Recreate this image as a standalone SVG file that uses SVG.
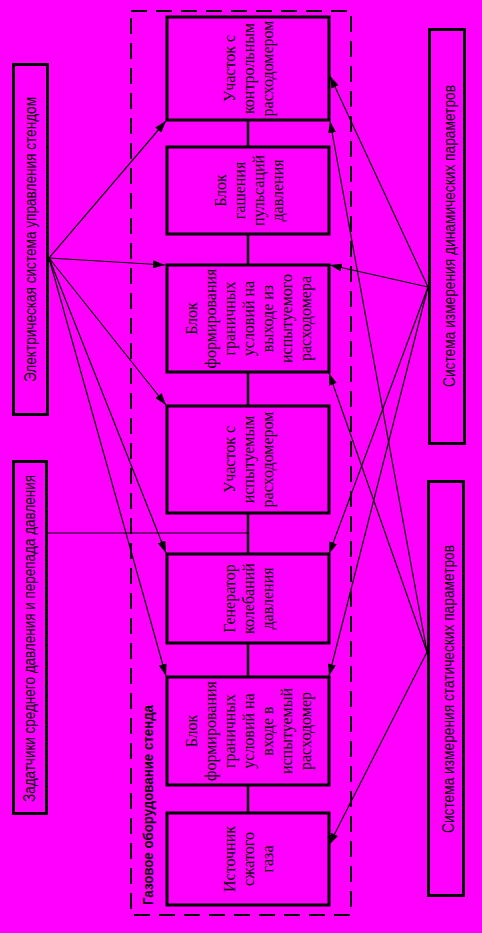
<svg xmlns="http://www.w3.org/2000/svg" width="482" height="933" viewBox="0 0 482 933">
<defs>
<style>
.bg{fill:#ff00ff}
.box{fill:none;stroke:#000;stroke-width:3}
.frame{fill:none;stroke:#000;stroke-width:2;stroke-dasharray:16 9}
.link{stroke:#000;stroke-width:2.5;fill:none}
.con{stroke:#000;stroke-width:1.2;fill:none;marker-end:url(#arr)}
.plain{stroke:#000;stroke-width:1.2;fill:none}
.t{font-family:"Liberation Serif","Times New Roman",serif;font-size:16px;fill:#000;text-anchor:middle}
.s{font-family:"Liberation Sans",Arial,sans-serif;fill:#000;text-anchor:middle}
</style>
<marker id="arr" markerUnits="userSpaceOnUse" markerWidth="12" markerHeight="8" refX="12" refY="4" orient="auto"><path d="M0,0 L12,4 L0,8 z" fill="#000"/></marker>
</defs>
<rect class="bg" x="0" y="0" width="482" height="933"/>

<g id="frame">
<rect class="frame" x="131" y="11" width="220" height="904"/>
<text class="s" font-size="15" font-weight="bold" transform="translate(153,805) rotate(-90)" textLength="200" lengthAdjust="spacingAndGlyphs">Газовое оборудование стенда</text>
</g>

<g id="connectors">
<line class="link" x1="248" y1="120" x2="248" y2="147"/>
<line class="link" x1="248" y1="234" x2="248" y2="265"/>
<line class="link" x1="248" y1="372" x2="248" y2="406"/>
<line class="link" x1="248" y1="513" x2="248" y2="554"/>
<line class="link" x1="248" y1="643" x2="248" y2="677"/>
<line class="link" x1="248" y1="785" x2="248" y2="813"/>
<line class="plain" x1="48" y1="533" x2="248" y2="533"/>
<line class="con" x1="49" y1="258" x2="166" y2="121"/>
<line class="con" x1="49" y1="258" x2="165" y2="265"/>
<line class="con" x1="49" y1="258" x2="166" y2="405"/>
<line class="con" x1="49" y1="258" x2="166" y2="553"/>
<line class="con" x1="49" y1="258" x2="166" y2="676"/>
<line class="con" x1="428" y1="287" x2="330" y2="76"/>
<line class="con" x1="428" y1="287" x2="330" y2="265"/>
<line class="con" x1="428" y1="287" x2="329" y2="554"/>
<line class="con" x1="428" y1="287" x2="329" y2="676"/>
<line class="con" x1="427" y1="652" x2="330" y2="121"/>
<line class="con" x1="427" y1="652" x2="329" y2="373"/>
<line class="con" x1="427" y1="652" x2="329" y2="845"/>
</g>

<g id="ctrl">
<rect class="box" x="13.5" y="64.5" width="34" height="350"/>
<text class="s" font-size="16" transform="translate(36,239.5) rotate(-90)" textLength="285" lengthAdjust="spacingAndGlyphs">Электрическая система управления стендом</text>
</g>
<g id="setters">
<rect class="box" x="13.5" y="461.5" width="33" height="352"/>
<text class="s" font-size="16" transform="translate(35,638.5) rotate(-90)" textLength="327" lengthAdjust="spacingAndGlyphs">Задатчики среднего давления и перепада давления</text>
</g>
<g id="dyn">
<rect class="box" x="429.5" y="29.5" width="35" height="414"/>
<text class="s" font-size="17" transform="translate(455,236) rotate(-90)" textLength="302" lengthAdjust="spacingAndGlyphs">Система измерения динамических параметров</text>
</g>
<g id="stat">
<rect class="box" x="428.5" y="481.5" width="35" height="414"/>
<text class="s" font-size="17" transform="translate(454,689) rotate(-90)" textLength="288" lengthAdjust="spacingAndGlyphs">Система измерения статических параметров</text>
</g>

<g id="boxA">
<rect class="box" x="167" y="17" width="162" height="103"/>
<text class="t" transform="translate(254,68.5) rotate(-90)"><tspan x="0" y="-19">Участок с</tspan><tspan x="0" y="0">контрольным</tspan><tspan x="0" y="19">расходомером</tspan></text>
</g>
<g id="boxB">
<rect class="box" x="167" y="147" width="162" height="87"/>
<text class="t" transform="translate(254,190.5) rotate(-90)"><tspan x="0" y="-28.5">Блок</tspan><tspan x="0" y="-9.5">гашения</tspan><tspan x="0" y="9.5">пульсаций</tspan><tspan x="0" y="28.5">давления</tspan></text>
</g>
<g id="boxC">
<rect class="box" x="167" y="265" width="162" height="107"/>
<text class="t" transform="translate(254,318.5) rotate(-90)"><tspan x="0" y="-57">Блок</tspan><tspan x="0" y="-38">формирования</tspan><tspan x="0" y="-19">граничных</tspan><tspan x="0" y="0">условий на</tspan><tspan x="0" y="19">выходе из</tspan><tspan x="0" y="38">испытуемого</tspan><tspan x="0" y="57">расходомера</tspan></text>
</g>
<g id="boxD">
<rect class="box" x="167" y="406" width="162" height="107"/>
<text class="t" transform="translate(254,459.5) rotate(-90)"><tspan x="0" y="-19">Участок с</tspan><tspan x="0" y="0">испытуемым</tspan><tspan x="0" y="19">расходомером</tspan></text>
</g>
<g id="boxE">
<rect class="box" x="167" y="554" width="162" height="89"/>
<text class="t" transform="translate(254,598.5) rotate(-90)"><tspan x="0" y="-19">Генератор</tspan><tspan x="0" y="0">колебаний</tspan><tspan x="0" y="19">давления</tspan></text>
</g>
<g id="boxF">
<rect class="box" x="167" y="677" width="162" height="108"/>
<text class="t" transform="translate(254,731) rotate(-90)"><tspan x="0" y="-57">Блок</tspan><tspan x="0" y="-38">формирования</tspan><tspan x="0" y="-19">граничных</tspan><tspan x="0" y="0">условий на</tspan><tspan x="0" y="19">входе в</tspan><tspan x="0" y="38">испытуемый</tspan><tspan x="0" y="57">расходомер</tspan></text>
</g>
<g id="boxG">
<rect class="box" x="167" y="813" width="162" height="92"/>
<text class="t" transform="translate(254,859) rotate(-90)"><tspan x="0" y="-19">Источник</tspan><tspan x="0" y="0">сжатого</tspan><tspan x="0" y="19">газа</tspan></text>
</g>
</svg>
